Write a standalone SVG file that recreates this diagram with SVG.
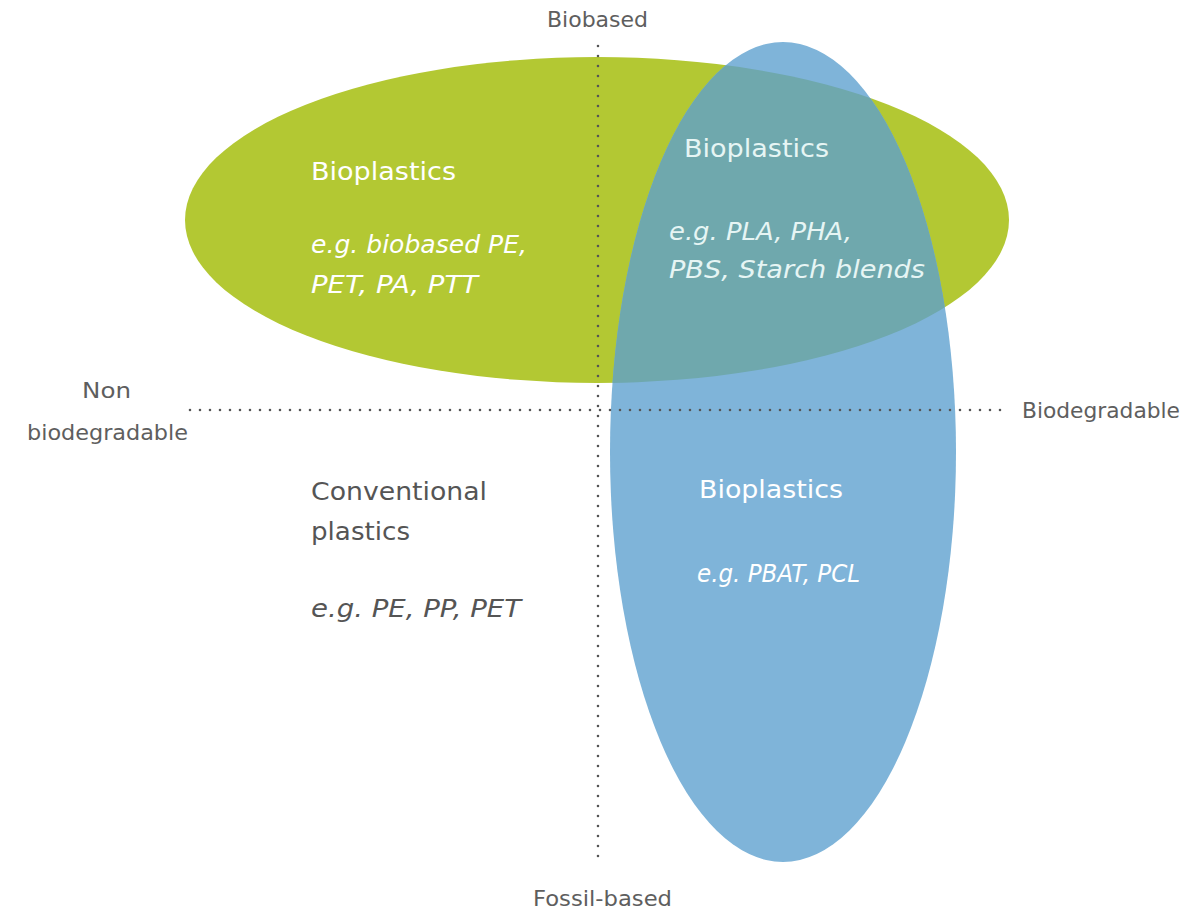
<svg xmlns="http://www.w3.org/2000/svg" width="1186" height="911" viewBox="0 0 1186 911">
<style>
.lbl{font-family:"DejaVu Sans","Open Sans",sans-serif;font-size:21px;fill:#5e5e5e}
.t{font-family:"DejaVu Sans","Open Sans",sans-serif;font-size:24px}
.i{font-style:italic}
.w{fill:#ffffff}
.c{fill:#e6f5f4}
.g{fill:#555555}
.dot{stroke:#555;stroke-width:2.6;stroke-linecap:round;stroke-dasharray:0 10;fill:none}
</style>
<defs>
<clipPath id="blueClip"><ellipse cx="783" cy="452" rx="173" ry="410"/></clipPath>
</defs>
<rect width="1186" height="911" fill="#ffffff"/>
<g id="green-ellipse">
<ellipse cx="597" cy="220" rx="412" ry="163" fill="#b3c833"/>
</g>
<g id="blue-ellipse">
<ellipse cx="783" cy="452" rx="173" ry="410" fill="#7fb4d9"/>
<ellipse cx="597" cy="220" rx="412" ry="163" fill="#6fa8ad" clip-path="url(#blueClip)"/>
</g>
<g id="connectors">
<line class="dot" x1="598" y1="46" x2="598" y2="862"/>
<line class="dot" x1="190" y1="410" x2="1010" y2="410"/>
</g>
<g id="axis-labels">
<text class="lbl" x="547" y="27" textLength="101" lengthAdjust="spacingAndGlyphs">Biobased</text>
<text class="lbl" x="533" y="906" textLength="139" lengthAdjust="spacingAndGlyphs">Fossil-based</text>
<text class="lbl" x="82" y="398" textLength="49" lengthAdjust="spacingAndGlyphs">Non</text>
<text class="lbl" x="27" y="440" textLength="161" lengthAdjust="spacingAndGlyphs">biodegradable</text>
<text class="lbl" x="1022" y="418" textLength="158" lengthAdjust="spacingAndGlyphs">Biodegradable</text>
</g>
<g id="node-biobased-nonbiodeg">
<text class="t w" x="311" y="180" textLength="145" lengthAdjust="spacingAndGlyphs">Bioplastics</text>
<text class="t w i" x="311" y="253" textLength="216" lengthAdjust="spacingAndGlyphs">e.g. biobased PE,</text>
<text class="t w i" x="311" y="293" textLength="167" lengthAdjust="spacingAndGlyphs">PET, PA, PTT</text>
</g>
<g id="node-biobased-biodeg">
<text class="t c" x="684" y="157" textLength="145" lengthAdjust="spacingAndGlyphs">Bioplastics</text>
<text class="t c i" x="669" y="240" textLength="183" lengthAdjust="spacingAndGlyphs">e.g. PLA, PHA,</text>
<text class="t c i" x="669" y="278" textLength="256" lengthAdjust="spacingAndGlyphs">PBS, Starch blends</text>
</g>
<g id="node-fossil-biodeg">
<text class="t w" x="699" y="498" textLength="144" lengthAdjust="spacingAndGlyphs">Bioplastics</text>
<text class="t w i" x="697" y="582" textLength="163" lengthAdjust="spacingAndGlyphs">e.g. PBAT, PCL</text>
</g>
<g id="node-conventional">
<text class="t g" x="311" y="500" textLength="176" lengthAdjust="spacingAndGlyphs">Conventional</text>
<text class="t g" x="311" y="540" textLength="99" lengthAdjust="spacingAndGlyphs">plastics</text>
<text class="t g i" x="311" y="617" textLength="210" lengthAdjust="spacingAndGlyphs">e.g. PE, PP, PET</text>
</g>
</svg>
